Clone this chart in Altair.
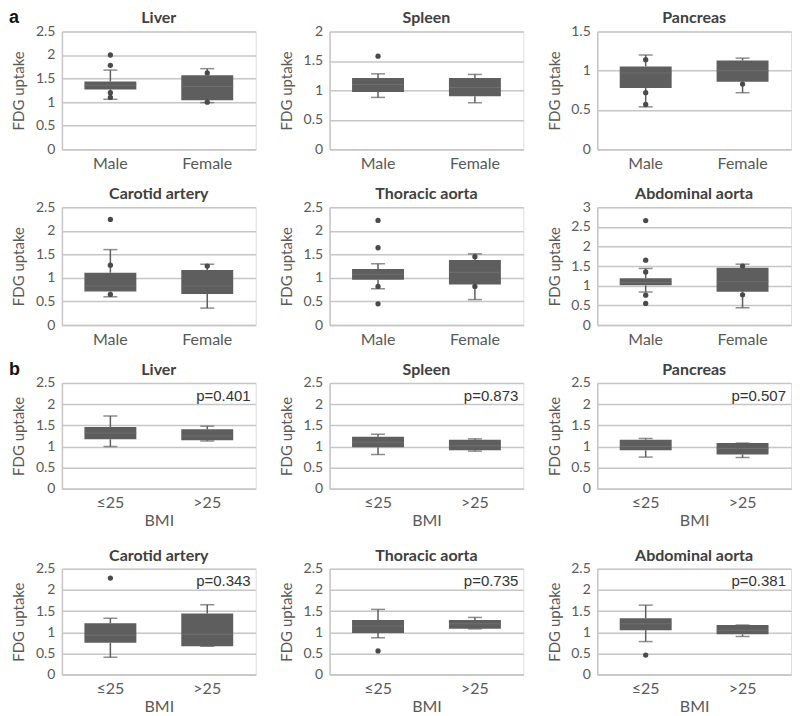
import altair as alt
import pandas as pd

organs = ["Liver", "Spleen", "Pancreas", "Carotid artery", "Thoracic aorta", "Abdominal aorta"]
sex_groups = ["Male", "Female"]
bmi_groups = ["≤25", ">25"]

# ---- Panel a: by sex, per organ [Male, Female]
a_low  = [[1.06, 0.99], [0.88, 0.79], [0.54, 0.72], [0.60, 0.36], [0.77, 0.54], [0.84, 0.44]]
a_q1   = [[1.27, 1.04], [0.97, 0.90], [0.78, 0.86], [0.71, 0.66], [0.96, 0.86], [1.01, 0.85]]
a_med  = [[1.36, 1.33], [1.10, 1.05], [0.97, 1.00], [0.83, 0.83], [1.08, 1.12], [1.08, 1.10]]
a_q3   = [[1.44, 1.57], [1.21, 1.21], [1.055, 1.13], [1.11, 1.17], [1.19, 1.38], [1.19, 1.46]]
a_high = [[1.68, 1.71], [1.28, 1.27], [1.20, 1.16], [1.60, 1.29], [1.30, 1.51], [1.44, 1.55]]
a_pts_group = [
    ["Male", "Male", "Male", "Male", "Female", "Female"],
    ["Male"],
    ["Male", "Male", "Male", "Female"],
    ["Male", "Male", "Male", "Female"],
    ["Male", "Male", "Male", "Male", "Female", "Female"],
    ["Male", "Male", "Male", "Male", "Male", "Female", "Female"],
]
a_pts_value = [
    [2.00, 1.78, 1.20, 1.10, 1.62, 1.00],
    [1.58],
    [1.14, 0.72, 0.57, 0.83],
    [2.24, 1.27, 0.65, 1.25],
    [2.22, 1.64, 0.45, 0.82, 0.82, 1.45],
    [2.66, 1.65, 1.35, 0.76, 0.55, 1.50, 0.77],
]
a_ymax = [2.5, 2.0, 1.5, 2.5, 2.5, 3.0]

# ---- Panel b: by BMI, per organ [<=25, >25]
b_low  = [[1.00, 1.13], [0.81, 0.89], [0.75, 0.74], [0.41, 0.67], [0.87, 1.08], [0.78, 0.90]]
b_q1   = [[1.17, 1.15], [0.98, 0.91], [0.91, 0.81], [0.75, 0.67], [0.98, 1.08], [1.05, 0.95]]
b_med  = [[1.32, 1.25], [1.10, 1.02], [1.00, 0.95], [0.93, 0.95], [1.15, 1.20], [1.20, 1.05]]
b_q3   = [[1.46, 1.41], [1.23, 1.16], [1.16, 1.08], [1.21, 1.44], [1.29, 1.29], [1.33, 1.17]]
b_high = [[1.72, 1.48], [1.29, 1.18], [1.19, 1.08], [1.33, 1.65], [1.54, 1.35], [1.64, 1.17]]
b_pts_group = [[], [], [], ["≤25"], ["≤25"], ["≤25"]]
b_pts_value = [[], [], [], [2.28], [0.56], [0.46]]
b_pvalues = ["p=0.401", "p=0.873", "p=0.507", "p=0.343", "p=0.735", "p=0.381"]
b_pvalue_y = 2.2
b_ymax = [2.5, 2.5, 2.5, 2.5, 2.5, 2.5]

W = 194
HA = 118
HB = 106
BOX = "#5e5e5e"
GRID = "#c6c6c6"
TXT = "#595959"
FONT = "Lato"


def panel(title, groups, low, q1, med, q3, high, pg, pv, ymax, height,
          xtitle=None, pval=None, letter=None):
    df = pd.DataFrame({"g": groups, "low": low, "q1": q1, "med": med, "q3": q3, "high": high})
    pts = pd.DataFrame({"g": pg, "v": pv})
    yvals = [round(i * 0.5, 1) for i in range(int(round(ymax / 0.5)) + 1)]
    xaxis = dict(labelAngle=0, labelFontSize=16, labelColor=TXT, labelFont=FONT,
                 domainColor=GRID, domainWidth=1.5, ticks=False, labelPadding=6)
    if xtitle:
        ax = alt.Axis(title=xtitle, titleFontSize=16, titleFontWeight="normal",
                      titleColor=TXT, titleFont=FONT, titlePadding=2, **xaxis)
    else:
        ax = alt.Axis(title="", **xaxis)
    x = alt.X("g:N", sort=groups, scale=alt.Scale(paddingInner=0, paddingOuter=0), axis=ax)
    sc = alt.Scale(domain=[0, ymax], nice=False, zero=True)
    yaxis = alt.Axis(values=yvals, format="~g", grid=True, gridColor=GRID, gridWidth=1.5,
                     domainColor=GRID, domainWidth=1.5, ticks=False, labelColor=TXT,
                     labelFontSize=14, labelFont=FONT, labelPadding=7, labelOverlap=False,
                     title="FDG uptake", titleFontSize=15, titleFontWeight="normal",
                     titleColor=TXT, titleFont=FONT, titlePadding=5,
                     minExtent=30, maxExtent=30)

    def Y(f):
        return alt.Y(f, type="quantitative", scale=sc, axis=yaxis, title="FDG uptake")

    base = alt.Chart(df)
    box = base.mark_bar(color=BOX, size=52).encode(x=x, y=Y("q1"), y2="q3")
    wl = base.mark_rule(color=BOX, strokeWidth=1.5).encode(x=x, y=Y("low"), y2="q1")
    wh = base.mark_rule(color=BOX, strokeWidth=1.5).encode(x=x, y=Y("q3"), y2="high")
    cl = base.mark_tick(color=BOX, size=14, thickness=1.5).encode(x=x, y=Y("low"))
    ch = base.mark_tick(color=BOX, size=14, thickness=1.5).encode(x=x, y=Y("high"))
    md = base.mark_tick(color="#767676", size=52, thickness=1).encode(x=x, y=Y("med"))
    layers = [box, wl, wh, cl, ch, md]
    if len(pts):
        layers.append(alt.Chart(pts).mark_circle(color="#4a4a4a", size=28, opacity=1)
                      .encode(x=x, y=Y("v")))
    if pval:
        layers.append(alt.Chart(pd.DataFrame({"t": [pval], "py": [b_pvalue_y]})).mark_text(
            align="right", baseline="middle", font="Liberation Sans", fontSize=15,
            color="#333333").encode(x=alt.value(W - 5), y=Y("py"), text="t:N"))
    # panel title
    layers.append(alt.Chart(pd.DataFrame({"t": [title]})).mark_text(
        align="center", baseline="middle", font=FONT, fontSize=16, fontWeight="bold",
        color="#404040").encode(x=alt.value(W / 2), y=alt.value(-13), text="t:N"))
    if letter:
        layers.append(alt.Chart(pd.DataFrame({"t": [letter]})).mark_text(
            align="left", baseline="bottom", font="Liberation Sans", fontSize=18,
            fontWeight="bold", color="#111111").encode(
            x=alt.value(-53), y=alt.value(-4), text="t:N"))
    return alt.layer(*layers).properties(width=W, height=height)


def row(kind, idxs):
    charts = []
    for i in idxs:
        if kind == "a":
            charts.append(panel(organs[i], sex_groups, a_low[i], a_q1[i], a_med[i], a_q3[i],
                                a_high[i], a_pts_group[i], a_pts_value[i], a_ymax[i], HA,
                                letter="a" if i == 0 else None))
        else:
            charts.append(panel(organs[i], bmi_groups, b_low[i], b_q1[i], b_med[i], b_q3[i],
                                b_high[i], b_pts_group[i], b_pts_value[i], b_ymax[i], HB,
                                xtitle="BMI", pval=b_pvalues[i],
                                letter="b" if i == 0 else None))
    return alt.hconcat(*charts, spacing=74, bounds="flush")


top = alt.vconcat(row("a", [0, 1, 2]), row("a", [3, 4, 5]), spacing=13)
bottom = alt.vconcat(row("b", [0, 1, 2]), row("b", [3, 4, 5]), spacing=17)
chart = alt.vconcat(top, bottom, spacing=12).properties(
    padding=0).configure_view(strokeWidth=0).configure(background="white")

chart.save("out.html", embed_options={"renderer": "svg", "actions": False})
